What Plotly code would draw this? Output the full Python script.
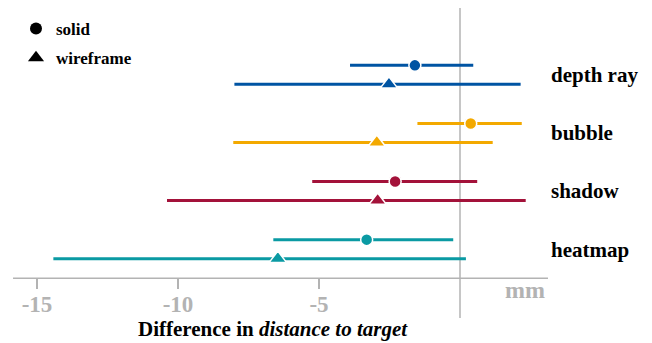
import plotly.graph_objects as go

categories = ["depth ray", "bubble", "shadow", "heatmap"]
colors = ["#0054A3", "#F3A900", "#A3123A", "#0A9AA3"]

solid_mean = [-1.60, 0.38, -2.30, -3.31]
solid_low = [-3.90, -1.51, -5.24, -6.62]
solid_high = [0.47, 2.19, 0.61, -0.24]

wire_mean = [-2.52, -2.95, -2.92, -6.46]
wire_low = [-8.00, -8.04, -10.39, -14.42]
wire_high = [2.15, 1.16, 2.33, 0.21]

tick_vals = [-15, -10, -5]
tick_text = ["-15", "-10", "-5"]

FONT = "Liberation Serif"
GRAY = "#b3b3b3"
W, H = 652, 343
OFF = 8  # page body margin


def fx(px):
    return (px - OFF) / W


def fy(py):
    return 1 - (py - OFF) / H


px_per_unit = 28.2
x0_px = 460 - OFF
xmin = -x0_px / px_per_unit
xmax = (W - x0_px) / px_per_unit

top0 = 74.85 - OFF
spacing = 58.1
ymin = (H - top0) / spacing
ymax = -top0 / spacing
off = 9.5 / spacing

fig = go.Figure()

for i, cat in enumerate(categories):
    fig.add_trace(go.Scatter(
        x=[solid_mean[i]], y=[i - off], mode="markers",
        marker=dict(symbol="circle", size=12, color=colors[i],
                    line=dict(color="white", width=1.5)),
        error_x=dict(type="data", symmetric=False,
                     array=[solid_high[i] - solid_mean[i]],
                     arrayminus=[solid_mean[i] - solid_low[i]],
                     color=colors[i], thickness=3, width=0),
        showlegend=False, hoverinfo="skip"))
    fig.add_trace(go.Scatter(
        x=[wire_mean[i]], y=[i + off], mode="markers",
        marker=dict(symbol="triangle-up", size=15, color=colors[i],
                    line=dict(color="white", width=1.5)),
        error_x=dict(type="data", symmetric=False,
                     array=[wire_high[i] - wire_mean[i]],
                     arrayminus=[wire_mean[i] - wire_low[i]],
                     color=colors[i], thickness=3, width=0),
        showlegend=False, hoverinfo="skip"))

fig.add_trace(go.Scatter(x=[None], y=[None], mode="markers", name="solid",
                         legendgroup="a",
                         marker=dict(symbol="circle", size=12, color="black")))
fig.add_trace(go.Scatter(x=[None], y=[None], mode="markers", name="wireframe",
                         legendgroup="b",
                         marker=dict(symbol="triangle-up", size=14, color="black")))

# zero reference line
fig.add_shape(type="line", xref="x", yref="paper", x0=0, x1=0,
              y0=fy(5), y1=fy(318), line=dict(color=GRAY, width=1.5),
              layer="below")
# axis line
axis_y = fy(278.3)
fig.add_shape(type="line", xref="x", yref="paper", x0=-15.85, x1=3.12,
              y0=axis_y, y1=axis_y, line=dict(color=GRAY, width=1.5),
              layer="below")

fig.add_annotation(x=fx(525), y=fy(290), xref="paper", yref="paper",
                   text="<b>mm</b>", showarrow=False,
                   font=dict(family=FONT, size=24, color=GRAY),
                   xanchor="center", yanchor="middle")
fig.add_annotation(x=fx(273), y=fy(329), xref="paper", yref="paper",
                   text="<b>Difference in <i>distance to target</i></b>",
                   showarrow=False,
                   font=dict(family=FONT, size=21, color="black"),
                   xanchor="center", yanchor="middle")

fig.update_layout(
    width=W, height=H,
    margin=dict(l=0, r=0, t=0, b=0),
    paper_bgcolor="white", plot_bgcolor="white",
    font=dict(family=FONT),
    showlegend=True,
    legend=dict(x=fx(16), y=fy(11), xanchor="left", yanchor="top",
                font=dict(family=FONT, size=17, color="black", weight="bold"),
                tracegroupgap=4, bgcolor="rgba(0,0,0,0)"),
    xaxis=dict(range=[xmin, xmax], domain=[0, 1], anchor="free",
               position=axis_y, showgrid=False, zeroline=False,
               showline=False, ticks="outside", ticklen=10, tickwidth=1.5,
               tickcolor=GRAY, tickvals=tick_vals, ticktext=tick_text,
               ticklabelstandoff=-5,
               tickfont=dict(family=FONT, size=23, color=GRAY, weight="bold"),
               automargin=False),
    yaxis=dict(range=[ymin, ymax], anchor="free", position=fx(550),
               side="right", showgrid=False, zeroline=False, showline=False,
               ticks="", tickvals=list(range(len(categories))),
               ticktext=categories,
               tickfont=dict(family=FONT, size=21, color="black", weight="bold"),
               automargin=False),
    hovermode=False,
)

fig.write_html("out.html")
